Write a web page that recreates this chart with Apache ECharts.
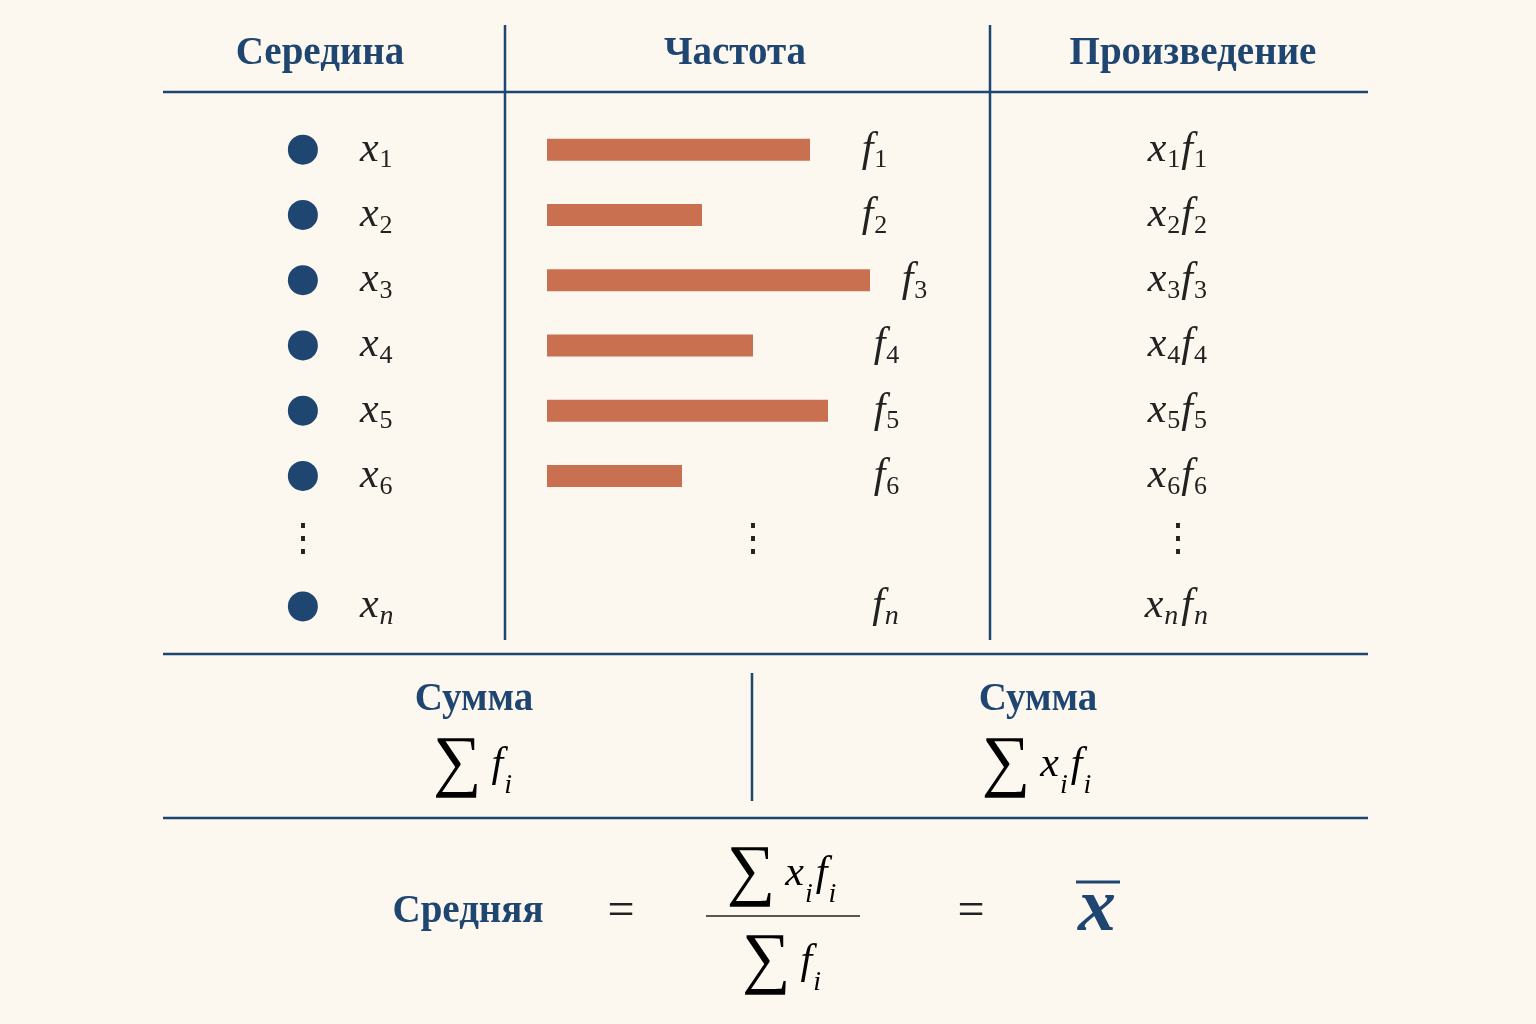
<!DOCTYPE html>
<html><head><meta charset="utf-8">
<script src="https://cdn.jsdelivr.net/npm/echarts@6/dist/echarts.min.js"></script>
<style>html,body{margin:0;background:#fcf8f0}#c{width:1536px;height:1024px}</style>
</head><body><div id="c"></div>
<script>
var rows = ['1', '2', '3', '4', '5', '6', 'dots', 'n'];
var freq = [65.75, 38.75, 80.75, 51.5, 70.25, 33.75, null, null];
var fLabelPos = [82, 82, 92, 85, 85, 85, null, 85];
var headers = ['Середина', 'Частота', 'Произведение'];

var navy = '#1f4670', ink = '#222', bar = '#c8704f';
var serif = '"Liberation Serif", "DejaVu Serif", serif';
var rich = {
  m: { fontFamily: serif, fontStyle: 'italic', fontSize: 42, color: ink, lineHeight: 48 },
  s: { fontFamily: serif, fontSize: 26, color: ink, lineHeight: 24, verticalAlign: 'bottom', padding: [0, 1, 0, 1] },
  si: { fontFamily: serif, fontStyle: 'italic', fontSize: 28, color: ink, lineHeight: 24, verticalAlign: 'bottom', padding: [0, 3, 0, 1] },
  big: { fontFamily: serif, fontSize: 68, color: ink, lineHeight: 70, padding: [0, 10, 0, 0] },
  d: { fontFamily: serif, fontSize: 38, color: ink, lineHeight: 48 }
};
function sub(b, i) {
  if (i === 'dots') return '{d|⋮}';
  return '{m|' + b + '}{' + (i === 'n' || i === 'i' ? 'si' : 's') + '|' + i + '}';
}
var lbl = function (o) {
  o.show = true; o.rich = rich; o.color = ink; o.textBorderWidth = 0; o.opacity = 1;
  return o;
};

var chart = echarts.init(document.getElementById('c'));
var hline = function (x1, x2, y) { return { type: 'line', shape: { x1: x1, y1: y, x2: x2, y2: y }, style: { stroke: navy, lineWidth: 2.5 } }; };
var vline = function (x, y1, y2) { return { type: 'line', shape: { x1: x, y1: y1, x2: x, y2: y2 }, style: { stroke: navy, lineWidth: 2.5 } }; };
var head = function (t, x, y, size) { return { type: 'text', x: x, y: y, style: { text: t, fontFamily: serif, fontWeight: 'bold', fontSize: size || 39, fill: navy, align: 'center', verticalAlign: 'middle' } }; };
var rt = function (t, x, y, align) { return { type: 'text', x: x, y: y, style: { text: t, rich: rich, align: align || 'center', verticalAlign: 'middle' } }; };

var yCat = function (idx) { return { type: 'category', gridIndex: idx, data: rows, inverse: true, show: false }; };
chart.setOption({
  backgroundColor: '#fcf8f0',
  animation: false,
  grid: [
    { left: 547, width: 400, top: 117, height: 522 },
    { left: 163, width: 342, top: 117, height: 522 },
    { left: 990, width: 378, top: 117, height: 522 }
  ],
  xAxis: [
    { type: 'value', gridIndex: 0, min: 0, max: 100, show: false },
    { type: 'value', gridIndex: 1, min: 0, max: 1, show: false },
    { type: 'value', gridIndex: 2, min: 0, max: 1, show: false }
  ],
  yAxis: [yCat(0), yCat(1), yCat(2)],
  series: [
    { type: 'bar', xAxisIndex: 0, yAxisIndex: 0, data: freq, barWidth: 22, itemStyle: { color: bar } },
    { type: 'scatter', xAxisIndex: 0, yAxisIndex: 0, symbolSize: 0,
      data: rows.map(function (r, i) { return fLabelPos[i] == null ? (r === 'dots' ? [51.5, r] : null) : [fLabelPos[i], r]; }),
      label: lbl({ position: 'inside', formatter: function (p) { return sub('f', rows[p.dataIndex]); } }) },
    { type: 'scatter', xAxisIndex: 1, yAxisIndex: 1, symbolSize: 30, itemStyle: { color: navy, opacity: 1 },
      data: rows.map(function (r) { return [0.409, r]; }),
      symbol: function (v) { return v[1] === 'dots' ? 'none' : 'circle'; },
      label: lbl({ position: 'right', distance: 42,
        formatter: function (p) { return rows[p.dataIndex] === 'dots' ? '' : sub('x', rows[p.dataIndex]); } }) },
    { type: 'scatter', xAxisIndex: 1, yAxisIndex: 1, symbolSize: 0, data: [[0.409, 'dots']],
      label: lbl({ position: 'inside', formatter: '{d|⋮}' }) },
    { type: 'scatter', xAxisIndex: 2, yAxisIndex: 2, symbolSize: 0,
      data: rows.map(function (r) { return [0.497, r]; }),
      label: lbl({ position: 'inside',
        formatter: function (p) { var r = rows[p.dataIndex]; return r === 'dots' ? '{d|⋮}' : sub('x', r) + sub('f', r); } }) }
  ],
  graphic: [
    hline(163, 1368, 92), vline(505, 25, 640), vline(990, 25, 640),
    hline(163, 1368, 654), vline(752, 673, 801), hline(163, 1368, 818),
    head(headers[0], 320, 54), head(headers[1], 735, 54), head(headers[2], 1193, 54),
    head('Сумма', 474, 700), head('Сумма', 1038, 700),
    rt('{big|∑}' + sub('f', 'i'), 474, 765),
    rt('{big|∑}' + sub('x', 'i') + sub('f', 'i'), 1038, 765),
    head('Средняя', 468, 912),
    { type: 'text', x: 621, y: 912, style: { text: '=', fontFamily: serif, fontSize: 48, fill: ink, align: 'center', verticalAlign: 'middle' } },
    rt('{big|∑}' + sub('x', 'i') + sub('f', 'i'), 783, 874),
    { type: 'line', shape: { x1: 706, y1: 916, x2: 860, y2: 916 }, style: { stroke: ink, lineWidth: 1.5 } },
    rt('{big|∑}' + sub('f', 'i'), 783, 962),
    { type: 'text', x: 971, y: 912, style: { text: '=', fontFamily: serif, fontSize: 48, fill: ink, align: 'center', verticalAlign: 'middle' } },
    { type: 'text', x: 1097, y: 910, style: { text: 'x', fontFamily: serif, fontStyle: 'italic', fontWeight: 'bold', fontSize: 76, fill: navy, align: 'center', verticalAlign: 'middle' } },
    { type: 'line', shape: { x1: 1076, y1: 882, x2: 1120, y2: 882 }, style: { stroke: navy, lineWidth: 3 } }
  ]
});
</script></body></html>
